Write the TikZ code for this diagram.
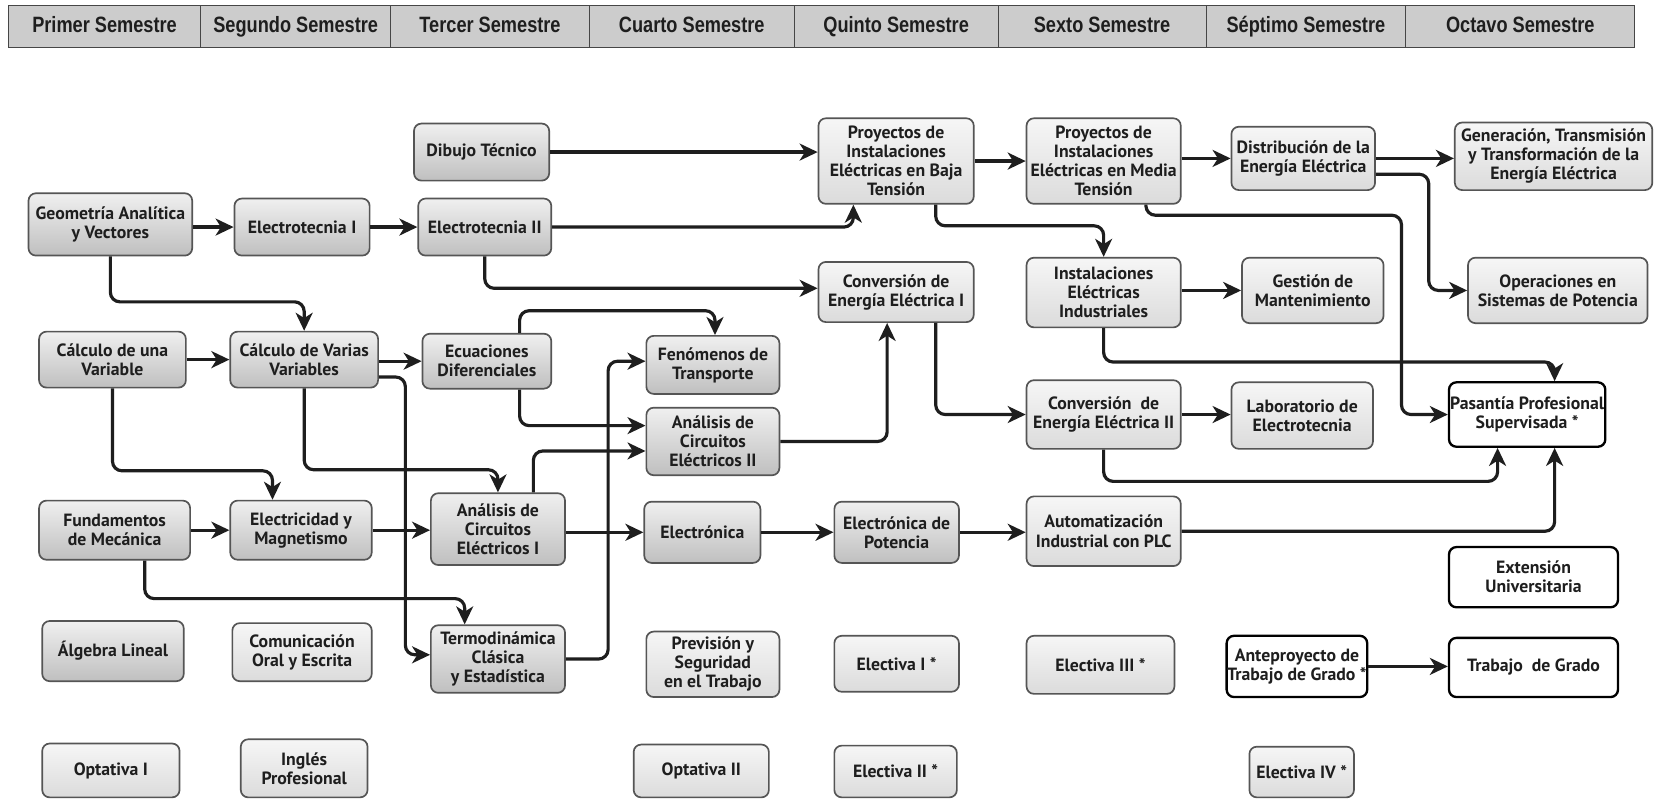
\documentclass[tikz,border=0pt]{standalone}
\usepackage{fontspec}
\setmainfont{PT Sans}
\newfontfamily\hdrfont[FakeStretch=0.82]{Liberation Sans}
\usetikzlibrary{arrows.meta,calc}
\definecolor{ink}{HTML}{1E1E1E}
\definecolor{bord}{HTML}{555555}
\definecolor{hdrfill}{HTML}{CCCCCC}
\begin{document}
\begin{tikzpicture}[x=1pt,y=-1pt,
 every node/.style={font=\bfseries\fontsize{16.8}{18}\selectfont, text=ink, align=center, inner sep=0.5pt},
 box/.style={rounded corners=7pt, draw=bord, line width=1.6pt},
 dark/.style={box, top color=gray!12, bottom color=gray!50},
 light/.style={box, top color=gray!7, bottom color=gray!28},
 wbox/.style={rounded corners=7pt, draw=black, line width=2.2pt, fill=white},
 hdr/.style={draw=gray!55!black, line width=1pt, fill=hdrfill, font=\hdrfont\bfseries\fontsize{21}{24}\selectfont, inner sep=0pt, minimum height=40, text height=15pt, text depth=4pt},
 arr/.style={-{Stealth[length=17pt,width=16pt,inset=5pt]}, line width=3pt, draw=ink, rounded corners=9pt},
]
\fill[white] (0,0) rectangle (1568,757);
\useasboundingbox (0,0) rectangle (1568,757);

% header
\node[hdr, minimum width=182] (h1) at (99,25) {Primer Semestre};
\node[hdr, minimum width=180] (h2) at (280,25) {Segundo Semestre};
\node[hdr, minimum width=188] (h3) at (464,25) {Tercer Semestre};
\node[hdr, minimum width=194] (h4) at (655,25) {Cuarto Semestre};
\node[hdr, minimum width=193] (h5) at (848.5,25) {Quinto Semestre};
\node[hdr, minimum width=197] (h6) at (1043.5,25) {Sexto Semestre};
\node[hdr, minimum width=189] (h7) at (1236.5,25) {Séptimo Semestre};
\node[hdr, minimum width=217] (h8) at (1439.5,25) {Octavo Semestre};

% nodes
\node[dark, minimum width=128, minimum height=54] (dib) at (456,144) {Dibujo Técnico};
\node[light, minimum width=147, minimum height=81] (baja) at (848.5,152.5) {Proyectos de\\Instalaciones\\Eléctricas en Baja\\Tensión};
\node[light, minimum width=146, minimum height=81] (media) at (1045,152.5) {Proyectos de\\Instalaciones\\Eléctricas en Media\\Tensión};
\node[light, minimum width=136, minimum height=60] (dist) at (1234,150) {Distribución de la\\Energía Eléctrica};
\node[light, minimum width=187, minimum height=64] (gen) at (1471,148) {Generación, Transmisión\\y Transformación de la\\Energía Eléctrica};

\node[dark, minimum width=155, minimum height=59] (geo) at (104.5,212.5) {Geometría Analítica\\y Vectores};
\node[dark, minimum width=128, minimum height=54] (et1) at (286,215) {Electrotecnia I};
\node[dark, minimum width=126, minimum height=54] (et2) at (459,215) {Electrotecnia II};

\node[light, minimum width=147, minimum height=57] (conv1) at (848.5,276.5) {Conversión de\\Energía Eléctrica I};
\node[light, minimum width=146, minimum height=66] (inst) at (1045,277) {Instalaciones\\Eléctricas\\Industriales};
\node[light, minimum width=134, minimum height=62] (gest) at (1243,275) {Gestión de\\Mantenimiento};
\node[light, minimum width=170, minimum height=62] (oper) at (1475,275) {Operaciones en\\Sistemas de Potencia};

\node[dark, minimum width=139, minimum height=53] (cal1) at (106.5,340.5) {Cálculo de una\\Variable};
\node[dark, minimum width=140, minimum height=53] (cal2) at (288,340.5) {Cálculo de Varias\\Variables};
\node[dark, minimum width=122, minimum height=52] (ecu) at (461,342) {Ecuaciones\\Diferenciales};
\node[dark, minimum width=126, minimum height=55] (fen) at (675,345.5) {Fenómenos de\\Transporte};
\node[dark, minimum width=126, minimum height=64] (an2) at (675,418) {Análisis de\\Circuitos\\Eléctricos II};

\node[light, minimum width=146, minimum height=65] (conv2) at (1045,392.5) {Conversión\ \ de\\Energía Eléctrica II};
\node[light, minimum width=134, minimum height=63] (lab) at (1233,393.5) {Laboratorio de\\Electrotecnia};
\node[wbox, minimum width=148, minimum height=61] (pas) at (1446,392.5) {Pasantía Profesional\\Supervisada *};

\node[dark, minimum width=143, minimum height=56] (fund) at (108.5,502) {Fundamentos\\de Mecánica};
\node[dark, minimum width=134, minimum height=56] (elec) at (285,502) {Electricidad y\\Magnetismo};
\node[dark, minimum width=127, minimum height=68] (an1) at (471.5,501) {Análisis de\\Circuitos\\Eléctricos I};
\node[dark, minimum width=110, minimum height=58] (elo) at (665,504) {Electrónica};
\node[dark, minimum width=118, minimum height=58] (elp) at (849,504) {Electrónica de\\Potencia};
\node[light, minimum width=146, minimum height=66] (aut) at (1045,503) {Automatización\\Industrial con PLC};
\node[wbox, minimum width=160, minimum height=57] (ext) at (1452,546.5) {Extensión\\Universitaria};

\node[dark, minimum width=134, minimum height=57] (alg) at (107,616.5) {Álgebra Lineal};
\node[light, minimum width=132, minimum height=55] (com) at (286,617.5) {Comunicación\\Oral y Escrita};
\node[dark, minimum width=127, minimum height=64] (ter) at (471.5,624) {Termodinámica\\Clásica\\y Estadística};
\node[light, minimum width=126, minimum height=62] (prev) at (675,629) {Previsión y\\Seguridad\\en el Trabajo};
\node[light, minimum width=118, minimum height=53] (el1) at (849,628.5) {Electiva I *};
\node[light, minimum width=140, minimum height=55] (el3) at (1042,629.5) {Electiva III *};
\node[wbox, minimum width=124, minimum height=58] (ante) at (1228,631) {Anteproyecto de\\Trabajo de Grado *};
\node[wbox, minimum width=160, minimum height=56] (tg) at (1452,632) {Trabajo\ \ de Grado};

\node[light, minimum width=130, minimum height=51] (opt1) at (105,729.5) {Optativa I};
\node[light, minimum width=120, minimum height=55] (ing) at (288,727.5) {Inglés\\Profesional};
\node[light, minimum width=128, minimum height=50] (opt2) at (664,730) {Optativa II};
\node[light, minimum width=116, minimum height=49] (el2) at (848,730.5) {Electiva II *};
\node[light, minimum width=99, minimum height=48] (el4) at (1232.5,731) {Electiva IV *};

% connectors
\draw[arr] (geo.east |- et1) -- (et1.west);
\draw[arr] (et1) -- (et2);
\draw[arr] (dib.east) -- (dib.east -| baja.west);
\draw[arr] (et2.east) -| ([xshift=-40.5pt]baja.south);
\draw[arr] (et2.south) |- ([yshift=3.5pt]conv1.west);
\draw[arr] (geo.south) -- ++(0,43) -| (cal2.north);
\draw[arr] (cal1) -- (cal2);
\draw[arr] (cal2.east |- ecu) -- (ecu.west);
\draw[arr] ([yshift=-16.5pt]cal2.east) -- ++(25,0) |- ([yshift=4pt]ter.west);
\draw[arr] (cal1.south) -- ++(0,78) -| ([xshift=-27pt]elec.north);
\draw[arr] (cal2.south) -- ++(0,77) -| (an1.north);
\draw[arr] ([xshift=31pt]ecu.north) -- ++(0,-21) -| ([xshift=2pt]fen.north);
\draw[arr] ([xshift=31pt]ecu.south) |- ([yshift=15pt]an2.west);
\draw[arr] ([xshift=33.5pt]an1.north) |- ([yshift=-9pt]an2.west);
\draw[arr] (ter.east) -- ++(40,0) |- ([yshift=3.5pt]fen.west);
\draw[arr] (fund) -- (elec);
\draw[arr] ([xshift=28.5pt]fund.south) -- ++(0,36) -| ([xshift=-31.5pt]ter.north);
\draw[arr] (elec) -- (an1.west |- elec);
\draw[arr] (an1.east |- elo) -- (elo.west);
\draw[arr] (elo) -- (elp);
\draw[arr] (elp) -- (aut.west |- elp);
\draw[arr] (an2.east) -| ([xshift=-8.5pt]conv1.south);
\draw[arr] (baja) -- (media);
\draw[arr] (media.east |- dist) -- (dist.west);
\draw[arr] (dist) -- (gen.west |- dist);
\draw[arr] ([xshift=37.5pt]baja.south) -- ++(0,20) -| (inst.north);
\draw[arr] ([xshift=37.5pt]conv1.south) |- (conv2.west);
\draw[arr] (inst.east |- gest) -- (gest.west);
\draw[arr] (conv2) -- (lab.west |- conv2);
\draw[arr] ([yshift=-15pt]dist.east) -- ++(50,0) |- (oper.west);
\draw[arr] ([xshift=40pt]media.south) -- ++(0,10) -- ++(242,0) |- (pas.west);
\draw[arr] (inst.south) -- ++(0,32) -| ([xshift=26pt]pas.north);
\draw[arr] (conv2.south) -- ++(0,30) -| ([xshift=-28pt]pas.south);
\draw[arr] (aut.east) -| ([xshift=26pt]pas.south);
\draw[arr] (ante) -- (tg.west |- ante);
\end{tikzpicture}
\end{document}
